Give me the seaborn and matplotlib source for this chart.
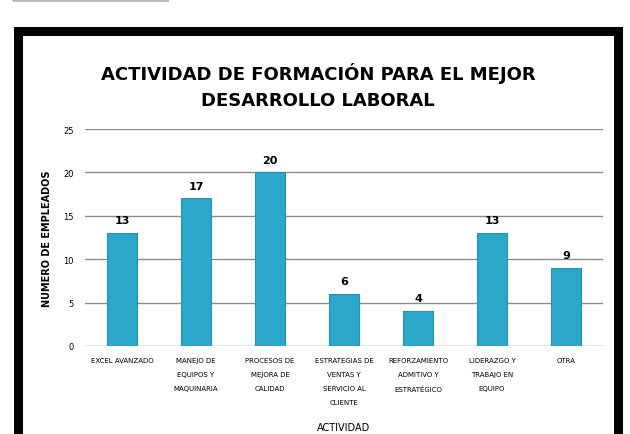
import matplotlib
matplotlib.use("Agg")
import matplotlib.pyplot as plt
import seaborn as sns
import pandas as pd
from matplotlib.patches import Rectangle

actividades = [
    "EXCEL AVANZADO",
    "MANEJO DE\nEQUIPOS Y\nMAQUINARIA",
    "PROCESOS DE\nMEJORA DE\nCALIDAD",
    "ESTRATEGIAS DE\nVENTAS Y\nSERVICIO AL\nCLIENTE",
    "REFORZAMIENTO\nADMITIVO Y\nESTRATÉGICO",
    "LIDERAZGO Y\nTRABAJO EN\nEQUIPO",
    "OTRA",
]
empleados = [13, 17, 20, 6, 4, 13, 9]
y_ticks = [0, 5, 10, 15, 20, 25]

df = pd.DataFrame({"actividad": actividades, "empleados": empleados})

sns.set_theme(style="white")
plt.rcParams["font.family"] = ["DejaVu Sans"]
plt.rcParams["text.color"] = "black"
plt.rcParams["axes.labelcolor"] = "black"
plt.rcParams["xtick.color"] = "black"
plt.rcParams["ytick.color"] = "black"

fig = plt.figure(figsize=(6.3, 4.35), dpi=100)
ax = fig.add_axes([0.135, 0.2023, 0.822, 0.4987])

# black frame around the chart and grey box at the top left
fig.patches.append(Rectangle((17.5 / 630, -0.05), 600 / 630, (435 - 31.5) / 435 + 0.05,
                             transform=fig.transFigure, fill=False,
                             edgecolor="black", linewidth=6.5, zorder=0))
fig.patches.append(Rectangle((13 / 630, 1 - 2 / 435), 155 / 630, 0.05,
                             transform=fig.transFigure, fill=False,
                             edgecolor="#b0b0b0", linewidth=1.2, zorder=0))

sns.barplot(data=df, x="actividad", y="empleados", ax=ax, color="#2ba7ca",
            width=0.4, edgecolor="#2590b0", linewidth=0.8, saturation=1, zorder=3)

for i, v in enumerate(empleados):
    ax.text(i, v + 0.9, str(v), ha="center", va="bottom", fontsize=8,
            fontweight="bold", color="black", zorder=4)

ax.set_ylim(0, 25)
ax.set_yticks(y_ticks)
ax.yaxis.grid(True, color="#8a8a8a", linewidth=1)
ax.set_axisbelow(True)
for s in ax.spines.values():
    s.set_visible(False)
ax.tick_params(axis="y", labelsize=6, pad=8, length=0)
ax.tick_params(axis="x", labelsize=5, pad=8, length=0)
for lab in ax.get_xticklabels():
    lab.set_verticalalignment("top")
    lab.set_linespacing(2.6)

ax.set_xlabel("ACTIVIDAD", fontsize=7, labelpad=12)
ax.set_ylabel("NUMERO DE EMPLEADOS", fontsize=7, fontweight="bold", labelpad=8)

fig.text(0.505, 0.832, "ACTIVIDAD DE FORMACIÓN PARA EL MEJOR", ha="center",
         va="center", fontsize=13, fontweight="bold")
fig.text(0.505, 0.768, "DESARROLLO LABORAL", ha="center", va="center",
         fontsize=13, fontweight="bold")

fig.savefig("out.png", dpi=100)
